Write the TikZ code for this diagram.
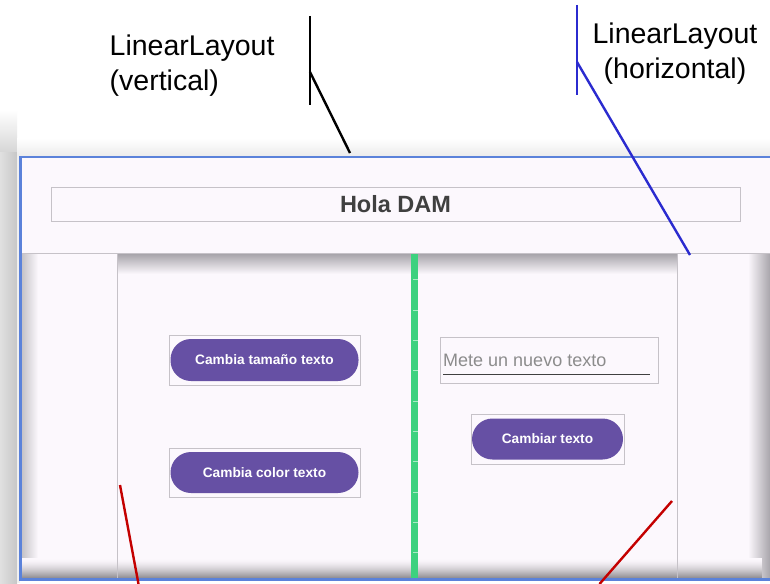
\documentclass[tikz,border=0pt]{standalone}
\usepackage{fontspec}
\setmainfont{Liberation Sans}
\usetikzlibrary{calc}
\definecolor{bg}{HTML}{FCF8FD}
\definecolor{frameblue}{HTML}{5B82DA}
\definecolor{btn}{HTML}{6650A4}
\definecolor{sepgreen}{HTML}{3DD17F}
\definecolor{boxgray}{HTML}{C6C2C8}
\definecolor{lblue}{HTML}{2B2BCF}
\definecolor{lred}{HTML}{C40000}
\definecolor{shadowgray}{HTML}{A8A5AB}
\definecolor{deepshadow}{HTML}{959297}
\tikzset{
  lbl/.style={inner sep=0pt, font=\fontsize{28.5}{35}\selectfont},
  viewbox/.style={draw=boxgray, line width=0.9pt, inner sep=0pt},
  pill/.style={fill=btn, draw=none, rounded corners=20.5pt, inner sep=0pt,
    text=white, font=\bfseries\fontsize{13.7}{15}\selectfont},
  pointer/.style={line width=2.4pt},
}
\begin{document}
\begin{tikzpicture}[x=1pt,y=-1pt]
\useasboundingbox (0,0) rectangle (770,583);
\fill[white] (0,0) rectangle (770,583);
% outer shadow left and top
\shade[top color=white, bottom color=black!16] (0,110) rectangle (17,152);
\shade[left color=black!12, right color=black!22] (0,152) rectangle (17,583);
\fill[black!6] (17,140) rectangle (20,583);
\shade[top color=white, bottom color=black!7] (17,138) rectangle (770,155);
% frame background
\fill[bg] (20,156) rectangle (770,580);
% top section
\coordinate (topL) at (20,253);
\coordinate (topR) at (770,253);
% left column shadow
\shade[left color=shadowgray!70, right color=bg] (21,253) rectangle (38,578);
% middle top shadow
\shade[top color=shadowgray, bottom color=bg] (117,254) rectangle (677,274);
% right column shadow
\shade[left color=bg, right color=shadowgray] (748,253) rectangle (770,578);
% bottom shadow (explicit gradient, darkest at the bottom)
\foreach \i in {0,...,19} {
  \pgfmathsetmacro{\pct}{(\i/19)^1.6*100}
  \fill[deepshadow!\pct!bg] (21,558+\i) rectangle (762,559.05+\i);
}
% divider lines
\draw[boxgray, line width=1pt] (topL) -- (topR);
\draw[boxgray, line width=1pt] (117,253) -- (117,578);
\draw[boxgray, line width=1pt] (677,253) -- (677,578);
% frame border
\draw[frameblue, line width=2.5pt] (770,157) -- (20.5,157) -- (20.5,579.5) -- (770,579.5);
% green separator
\fill[sepgreen] (411,254) rectangle (418,578);
\foreach \yy in {279,310,340,370,401,431,461,492,522,552}
  \draw[white!55!sepgreen, line width=0.8pt] (413,\yy) -- (418,\yy);
% title
\node[viewbox, minimum width=689pt, minimum height=34pt] (hola) at (395.5,204)
  {\fontsize{23.5}{26}\selectfont\bfseries\color{black!75}Hola DAM};
% left buttons
\node[viewbox, minimum width=191pt, minimum height=50pt] (b1box) at (264.5,360) {};
\node[pill, minimum width=188pt, minimum height=42pt] (b1) at (b1box.center) {Cambia tamaño texto};
\node[viewbox, minimum width=191pt, minimum height=49pt] (b2box) at (264.5,472.5) {};
\node[pill, minimum width=188pt, minimum height=41pt] (b2) at (b2box.center) {Cambia color texto};
% edit text
\node[viewbox, minimum width=218pt, minimum height=46pt] (edit) at (549,360) {};
\node[anchor=base west, inner sep=0pt, text=black!45,
  font=\fontsize{18}{20}\selectfont] (hint) at (443,366.5) {Mete un nuevo texto};
\draw[black!75, line width=1.2pt] (443,374.5) -- (650,374.5);
% right button
\node[viewbox, minimum width=153pt, minimum height=50pt] (b3box) at (547.5,439) {};
\node[pill, minimum width=151pt, minimum height=41pt] (b3) at (b3box.center) {Cambiar texto};
% labels
\node[lbl, align=left, anchor=north west] (vlabel) at (109.5,34.5) {LinearLayout\\(vertical)};
\node[lbl, align=center, anchor=north] (hlabel) at (675,22.8) {LinearLayout\\(horizontal)};
% black pointer
\coordinate (kT) at (310,16);
\coordinate (kB) at (310,105);
\coordinate (kM) at (310,72);
\coordinate (kE) at (350,153);
\draw[pointer, black] (kT) -- (kB);
\draw[pointer, black] (kM) -- (kE);
% blue pointer
\coordinate (uT) at (577,5);
\coordinate (uB) at (577,95);
\coordinate (uM) at (577,62);
\coordinate (uE) at (690,255);
\draw[pointer, lblue] (uT) -- (uB);
\draw[pointer, lblue] (uM) -- (uE);
% red pointers
\coordinate (r1a) at (120,485);
\coordinate (r1b) at (138.5,584);
\coordinate (r2a) at (672,501);
\coordinate (r2b) at (599.5,584);
\draw[pointer, lred] (r1a) -- (r1b);
\draw[pointer, lred] (r2a) -- (r2b);
\end{tikzpicture}
\end{document}
